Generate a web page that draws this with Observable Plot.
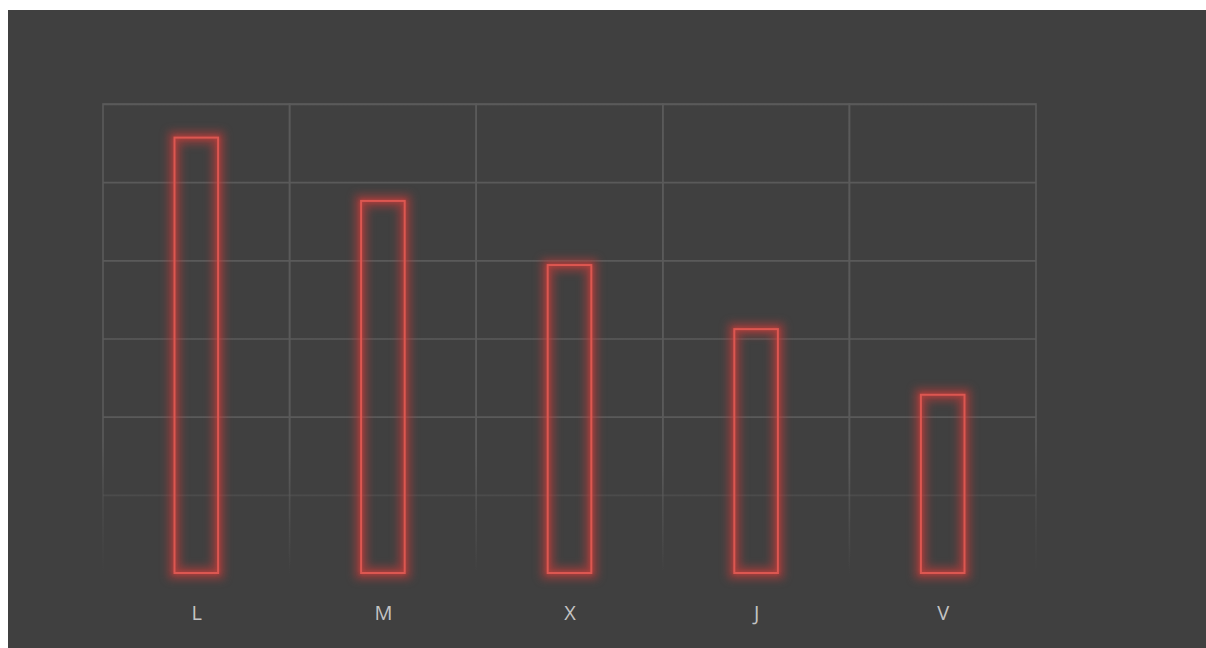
<!DOCTYPE html>
<html>
<head>
<meta charset="utf-8">
<script src="https://cdn.jsdelivr.net/npm/d3@7"></script>
<script src="https://cdn.jsdelivr.net/npm/@observablehq/plot@0.6"></script>
<style>
  html, body { margin: 0; padding: 0; background: #ffffff; }
  #chart { position: absolute; left: 8px; top: 10px; width: 1198px; height: 638px; background: #404040; }
</style>
</head>
<body>
<div id="chart"></div>
<script>
// Weekday initials and the value for each day
const days = ["L", "M", "X", "J", "V"];
const values = [5.57, 4.76, 3.94, 3.12, 2.28];
// Horizontal grid levels
const gridLevels = [1, 2, 3, 4, 5, 6];

const data = days.map((day, i) => ({day, value: values[i]}));

const W = 1198, H = 638;
const M = {top: 94, right: 170, bottom: 75, left: 95};
const barInset = 71.5;

// Gradient that fades the grid out towards the baseline
function gridFadeDefs() {
  const ns = "http://www.w3.org/2000/svg";
  const defs = document.createElementNS(ns, "defs");
  const g = document.createElementNS(ns, "linearGradient");
  g.setAttribute("id", "gridFade");
  g.setAttribute("gradientUnits", "userSpaceOnUse");
  g.setAttribute("x1", 0); g.setAttribute("x2", 0);
  g.setAttribute("y1", M.top); g.setAttribute("y2", H - M.bottom);
  [[0, 1], [0.72, 1], [0.83, 0.45], [1, 0]].forEach(([o, a]) => {
    const s = document.createElementNS(ns, "stop");
    s.setAttribute("offset", o);
    s.setAttribute("stop-color", "#5a5a5a");
    s.setAttribute("stop-opacity", a);
    g.appendChild(s);
  });
  defs.appendChild(g);
  return defs;
}

const chart = Plot.plot({
  width: W,
  height: H,
  marginTop: M.top,
  marginRight: M.right,
  marginBottom: M.bottom,
  marginLeft: M.left,
  style: {
    background: "transparent",
    color: "#c4c4c4",
    fontFamily: "'Open Sans', 'Noto Sans', sans-serif",
    fontSize: "20px"
  },
  x: {domain: days, padding: 0, round: false, label: null, tickSize: 0, tickPadding: 32},
  y: {domain: [0, 6], axis: null},
  marks: [
    gridFadeDefs,
    // column cells of the grid
    Plot.barY(days, {x: d => d, y1: 0, y2: 6, fill: "none", stroke: "url(#gridFade)", strokeWidth: 1.6}),
    // horizontal grid lines
    Plot.ruleY(gridLevels, {stroke: "url(#gridFade)", strokeWidth: 1.6}),
    // soft halo behind each bar outline
    Plot.barY(data, {
      x: "day", y: "value",
      fill: "none", stroke: "#c23c3a", strokeWidth: 12, strokeOpacity: 0.6,
      insetLeft: barInset, insetRight: barInset,
      ariaDescription: "bar halo"
    }),
    // outlined neon bars
    Plot.barY(data, {
      x: "day", y: "value",
      fill: "none", stroke: "#dc5751", strokeWidth: 2,
      insetLeft: barInset, insetRight: barInset,
      ariaDescription: "neon bars"
    })
  ]
});

const halo = chart.querySelector('g[aria-description="bar halo"]');
if (halo) halo.style.filter = "blur(4px)";
const glow = chart.querySelector('g[aria-description="neon bars"]');
if (glow) glow.style.filter = "drop-shadow(0 0 2px rgba(230, 65, 60, 0.8))";

document.getElementById("chart").appendChild(chart);
</script>
</body>
</html>
